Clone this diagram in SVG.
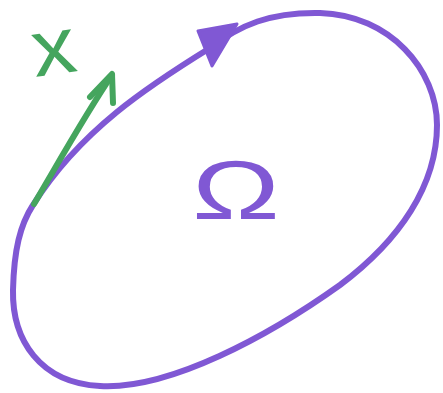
<svg xmlns="http://www.w3.org/2000/svg" width="443" height="393" viewBox="0 0 443 393">
<style>
.purple{fill:none;stroke:#8058d4;stroke-width:6;stroke-linecap:round;stroke-linejoin:round}
.green{fill:none;stroke:#45a55e;stroke-width:6;stroke-linecap:round;stroke-linejoin:round}
.lblp{fill:#8058d4;font-family:"Liberation Sans",Arial,sans-serif}
.lblg{fill:#45a55e;font-family:"Liberation Sans",Arial,sans-serif}
</style>
<rect width="443" height="393" fill="#ffffff"/>
<g id="connectors">
<g id="boundary">
<path class="purple" d="M33,205 C80,130 150,85 210,48 C240,25 270,12 320,13 C390,15 437,70 437,125 C437,185 400,240 340,285 C270,335 170,390 100,386 C40,383 12,340 13,290 C14,250 20,225 33,205 Z"/>
<polygon points="198,31 237,24 212,66" fill="#8058d4" stroke="#8058d4" stroke-width="3" stroke-linejoin="round"/>
</g>
<g id="normal-arrow">
<path class="green" d="M34,204 C60,160 85,115 112,75"/>
<path class="green" d="M90,97 L112,74 L113,103"/>
</g>
</g>
<g id="domain-label">
<text class="lblp" x="236" y="219" font-size="84" text-anchor="middle" transform="translate(236 0) scale(1.4 1) translate(-236 0)">Ω</text>
</g>
<g id="x-label">
<text class="lblg" x="57" y="74" font-size="80" text-anchor="middle" transform="translate(57 74) rotate(-8) scale(1.1 1) translate(-57 -74)">x</text>
</g>
</svg>
